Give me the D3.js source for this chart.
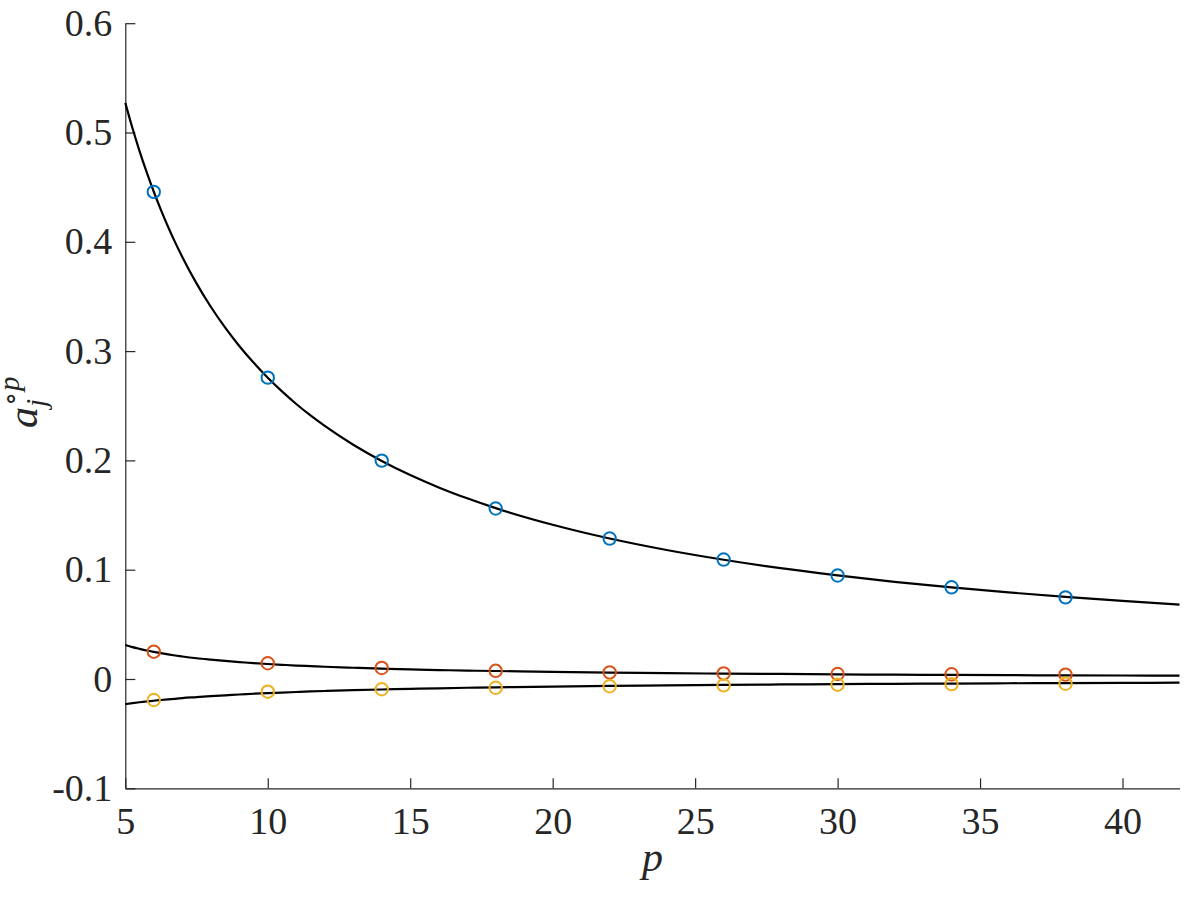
<!DOCTYPE html>
<html>
<head>
<meta charset="utf-8">
<script src="https://cdn.jsdelivr.net/npm/d3@7"></script>
<style>
  html, body { margin: 0; padding: 0; background: #fff; }
  svg { display: block; }
  .tick text { font-family: "Liberation Serif", "Times New Roman", serif; font-size: 38px; fill: #262626; }
  .lbl { font-family: "Liberation Serif", "Times New Roman", serif; fill: #262626; }
</style>
</head>
<body>
<svg id="chart" width="1200" height="900"></svg>
<script>
// ---- data ----
const pPoints = [6, 10, 14, 18, 22, 26, 30, 34, 38];
const bluePoints = [0.4457, 0.2757, 0.1998, 0.1560, 0.1285, 0.1093, 0.0947, 0.0839, 0.0747];
const redPoints = [0.0250, 0.0144, 0.0101, 0.0075, 0.0060, 0.0051, 0.0046, 0.0043, 0.0040];
const yellowPoints = [-0.0192, -0.0116, -0.0094, -0.0080, -0.0066, -0.0058, -0.0052, -0.0047, -0.0043];

const pCurve = [5, 5.25, 5.5, 5.75, 6, 6.25, 6.5, 6.75, 7, 7.5, 8, 8.5, 9, 9.5, 10, 10.5, 11, 11.5, 12, 13, 14, 15, 16, 17, 18,
  20, 22, 24, 26, 28, 30, 32, 34, 36, 38, 40, 42];
const blueCurve = [0.5271, 0.5041, 0.4830, 0.4637, 0.4458, 0.4292, 0.4138, 0.3995, 0.3862, 0.3620, 0.3406, 0.3217, 0.3047,
  0.2895, 0.2756, 0.2631, 0.2516, 0.2411, 0.2315, 0.2143, 0.1995, 0.1866, 0.1753, 0.1653, 0.1563,
  0.1411, 0.1285, 0.1180, 0.1091, 0.1014, 0.0948, 0.0889, 0.0838, 0.0792, 0.0751, 0.0714, 0.0680];
const redCurve = [0.0311, 0.0292, 0.0276, 0.0261, 0.0248, 0.0236, 0.0225, 0.0215, 0.0206, 0.0190, 0.0177, 0.0165, 0.0155,
  0.0145, 0.0137, 0.0130, 0.0123, 0.0118, 0.0112, 0.0103, 0.0095, 0.0088, 0.0082, 0.0077, 0.0073,
  0.0065, 0.0059, 0.0054, 0.0049, 0.0046, 0.0042, 0.0040, 0.0037, 0.0035, 0.0033, 0.0032, 0.0030];
const yellowCurve = [-0.0230, -0.0221, -0.0213, -0.0206, -0.0199, -0.0192, -0.0186, -0.0181, -0.0175, -0.0166, -0.0157, -0.0149, -0.0142,
  -0.0135, -0.0129, -0.0124, -0.0119, -0.0114, -0.0110, -0.0102, -0.0096, -0.0090, -0.0085, -0.0080, -0.0076,
  -0.0069, -0.0063, -0.0058, -0.0054, -0.0050, -0.0047, -0.0044, -0.0042, -0.0039, -0.0037, -0.0036, -0.0034];

const xTicks = [5, 10, 15, 20, 25, 30, 35, 40];
const yTicks = [-0.1, 0, 0.1, 0.2, 0.3, 0.4, 0.5, 0.6];
const yTickLabels = ["-0.1", "0", "0.1", "0.2", "0.3", "0.4", "0.5", "0.6"];

const colors = { blue: "#0072BD", red: "#D95319", yellow: "#EDB120" };

// ---- layout ----
const mLeft = 125.3, mRight = 1179.5, mTop = 23.2, mBottom = 788.3;
const svg = d3.select("#chart");

const x = d3.scaleLinear().domain([5, 42]).range([mLeft, mRight]);
const y = d3.scaleLinear().domain([-0.1, 0.6]).range([mBottom, mTop]);

// axes
const xAxis = d3.axisBottom(x).tickValues(xTicks).tickSizeInner(-10).tickSizeOuter(0).tickPadding(19).tickFormat(d3.format("d"));
const yAxis = d3.axisLeft(y).tickValues(yTicks).tickSizeInner(-10).tickSizeOuter(0).tickPadding(13)
  .tickFormat((d, i) => yTickLabels[i]);

const gx = svg.append("g").attr("transform", `translate(0,${mBottom})`).call(xAxis);
const gy = svg.append("g").attr("transform", `translate(${mLeft},0)`).call(yAxis);
[gx, gy].forEach(g => {
  g.attr("font-family", null).attr("font-size", null);
  g.select(".domain").attr("stroke", "#262626").attr("stroke-width", 1.2);
  g.selectAll(".tick line").attr("stroke", "#262626").attr("stroke-width", 1.2);
});

// curves
const line = d3.line().x(d => x(d[0])).y(d => y(d[1])).curve(d3.curveMonotoneX);
const curves = [blueCurve, redCurve, yellowCurve];
const plot = svg.append("g");
curves.forEach(c => {
  plot.append("path")
    .datum(pCurve.map((p, i) => [p, c[i]]))
    .attr("d", line)
    .attr("fill", "none")
    .attr("stroke", "#000")
    .attr("stroke-width", 2.2);
});

// points
const series = [[bluePoints, colors.blue], [redPoints, colors.red], [yellowPoints, colors.yellow]];
series.forEach(([vals, col]) => {
  plot.selectAll(null)
    .data(pPoints.map((p, i) => [p, vals[i]]))
    .enter().append("circle")
    .attr("cx", d => x(d[0]))
    .attr("cy", d => y(d[1]))
    .attr("r", 6.2)
    .attr("fill", "none")
    .attr("stroke", col)
    .attr("stroke-width", 2);
});

// x label
svg.append("text")
  .attr("class", "lbl")
  .attr("x", (mLeft + mRight) / 2)
  .attr("y", 871)
  .attr("text-anchor", "middle")
  .style("font-style", "italic")
  .style("font-size", "42px")
  .text("p");

// y label: a_j^{∘p}
const yl = svg.append("text")
  .attr("class", "lbl")
  .attr("transform", "translate(37,428) rotate(-90)");
yl.append("tspan").style("font-style", "italic").style("font-size", "42px").text("a");
yl.append("tspan").style("font-style", "italic").style("font-size", "29px").attr("dy", 9).text("j");
yl.append("tspan").style("font-size", "26px").attr("dx", -8).attr("dy", -27).text("\u2218");
yl.append("tspan").style("font-style", "italic").style("font-size", "29px").text("p");
</script>
</body>
</html>
